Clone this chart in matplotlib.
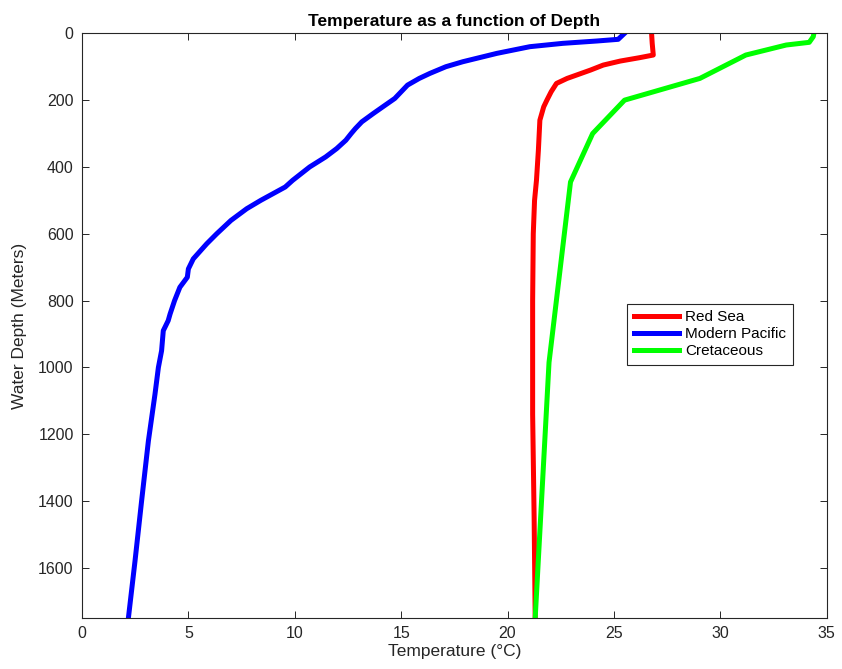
import numpy as np
import matplotlib
matplotlib.use('Agg')
import matplotlib.pyplot as plt

plt.rcParams['font.family'] = ['Liberation Sans', 'DejaVu Sans']

# Red Sea profile
red_depth = [0, 30, 65, 73, 83, 95, 110, 135, 150, 175, 200, 220, 260, 350, 440, 500, 600, 800, 1140, 1450, 1750]
red_temp = [26.77, 26.8, 26.85, 26.2, 25.3, 24.5, 23.9, 22.8, 22.3, 22.05, 21.85, 21.7, 21.52, 21.45, 21.36,
            21.27, 21.21, 21.18, 21.18, 21.25, 21.3]

# Modern Pacific profile
pac_depth = [0, 18, 23, 30, 40, 60, 85, 100, 120, 135, 155, 175, 195, 215, 240, 265, 285, 300, 320, 345, 370,
             400, 440, 460, 500, 525, 560, 600, 630, 675, 705, 730, 760, 800, 840, 860, 890, 950, 1000, 1080,
             1220, 1400, 1580, 1750]
pac_temp = [25.5, 25.2, 24.2, 22.6, 21.05, 19.5, 17.9, 17.1, 16.35, 15.85, 15.3, 15.0, 14.7, 14.25, 13.69,
            13.15, 12.85, 12.65, 12.4, 11.97, 11.45, 10.7, 9.9, 9.55, 8.4, 7.74, 7.0, 6.33, 5.86, 5.23, 5.0,
            4.95, 4.6, 4.35, 4.14, 4.05, 3.82, 3.74, 3.59, 3.43, 3.12, 2.8, 2.49, 2.18]

# Cretaceous profile
cre_depth = [0, 10, 27, 35, 65, 135, 200, 300, 445, 985, 1750]
cre_temp = [34.4, 34.37, 34.18, 33.1, 31.2, 29.04, 25.5, 24.0, 22.96, 21.95, 21.3]

labels = ['Red Sea', 'Modern Pacific', 'Cretaceous']

fig = plt.figure(figsize=(8.42, 6.69), dpi=100)
ax = fig.add_axes([0.0974, 0.0762, 0.8844, 0.874])

ax.plot(red_temp, red_depth, color='#ff0000', lw=3.6, label=labels[0])
ax.plot(pac_temp, pac_depth, color='#0000ff', lw=3.6, label=labels[1])
ax.plot(cre_temp, cre_depth, color='#00ff00', lw=3.6, label=labels[2])

ax.set_xlim(0, 35)
ax.set_ylim(1750, 0)
ax.set_xticks(np.arange(0, 36, 5))
ax.set_yticks(np.arange(0, 1601, 200))

axis_color = '#262626'
for s in ax.spines.values():
    s.set_color(axis_color)
    s.set_linewidth(0.8)
ax.tick_params(direction='in', length=5, width=0.7, colors=axis_color,
               top=True, right=True, labelsize=11.5, pad=6)

ax.set_title('Temperature as a function of Depth', fontsize=12.5, fontweight='bold', pad=5)
ax.set_xlabel('Temperature (\u00b0C)', fontsize=12.5, color=axis_color, labelpad=2)
ax.set_ylabel('Water Depth (Meters)', fontsize=12.5, color=axis_color, labelpad=8)

leg = ax.legend(loc='center right', bbox_to_anchor=(0.9655, 0.485), fontsize=11,
                fancybox=False, framealpha=1, edgecolor=axis_color, handlelength=3.0,
                handletextpad=0.4, borderpad=0.45, labelspacing=0.2)
leg.get_frame().set_linewidth(0.8)

fig.savefig('out.png', dpi=100)
